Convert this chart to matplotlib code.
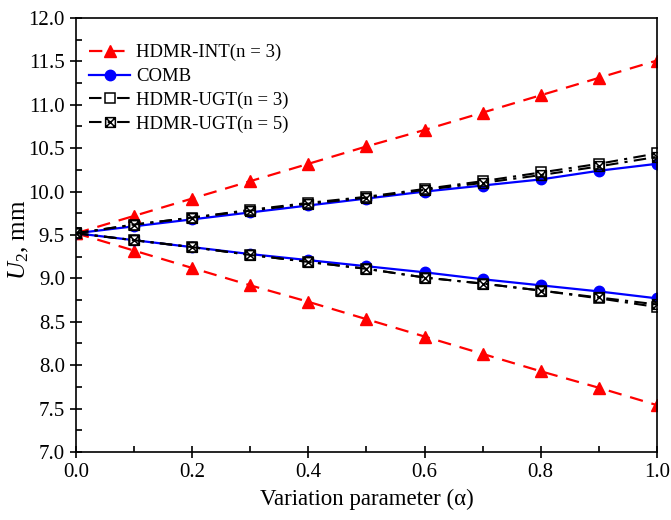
import matplotlib
matplotlib.use("Agg")
import matplotlib.pyplot as plt
from matplotlib.path import Path
from matplotlib.ticker import MultipleLocator
import numpy as np

plt.rcParams['font.family'] = ['Liberation Serif', 'DejaVu Serif']
plt.rcParams['mathtext.fontset'] = 'custom'
plt.rcParams['mathtext.rm'] = 'Liberation Serif'
plt.rcParams['mathtext.it'] = 'Liberation Serif:italic'

alpha = [0.0, 0.1, 0.2, 0.3, 0.4, 0.5, 0.6, 0.7, 0.8, 0.9, 1.0]

int_up = [9.52, 9.72, 9.92, 10.12, 10.32, 10.52, 10.71, 10.91, 11.11, 11.31, 11.51]
int_lo = [9.52, 9.32, 9.12, 8.92, 8.73, 8.53, 8.33, 8.13, 7.93, 7.74, 7.54]

comb_up = [9.52, 9.60, 9.68, 9.76, 9.84, 9.92, 10.00, 10.07, 10.14, 10.24, 10.32]
comb_lo = [9.52, 9.44, 9.36, 9.28, 9.21, 9.14, 9.07, 8.99, 8.92, 8.85, 8.77]

ugt3_up = [9.52, 9.62, 9.70, 9.79, 9.87, 9.94, 10.03, 10.12, 10.22, 10.32, 10.44]
ugt3_lo = [9.52, 9.44, 9.36, 9.27, 9.19, 9.11, 9.01, 8.94, 8.86, 8.77, 8.67]

ugt5_up = [9.52, 9.62, 9.70, 9.78, 9.86, 9.93, 10.02, 10.10, 10.19, 10.29, 10.40]
ugt5_lo = [9.52, 9.44, 9.36, 9.27, 9.19, 9.11, 9.01, 8.94, 8.86, 8.78, 8.70]

labels = ['HDMR-INT(n = 3)', 'COMB', 'HDMR-UGT(n = 3)', 'HDMR-UGT(n = 5)']

# square with X marker
codes = [Path.MOVETO, Path.LINETO, Path.LINETO, Path.LINETO, Path.CLOSEPOLY,
         Path.MOVETO, Path.LINETO, Path.MOVETO, Path.LINETO]
verts = [(-1, -1), (1, -1), (1, 1), (-1, 1), (-1, -1), (-1, -1), (1, 1), (-1, 1), (1, -1)]
sqx = Path(verts, codes)

fig = plt.figure(figsize=(6.71, 5.20), dpi=100)
ax = fig.add_axes([0.1133, 0.1308, 0.8657, 0.8346])

red = '#ff0000'
blue = '#0000ff'

kw_int = dict(color=red, lw=1.6, dashes=(6, 4), marker='^', markersize=9, mfc=red, mec=red)
kw_comb = dict(color=blue, lw=1.6, marker='o', markersize=7.5, mfc=blue, mec=blue)
kw_u3 = dict(color='black', lw=1.5, dashes=(6, 3, 1.5, 3), marker='s', markersize=7, mfc='white', mec='black', mew=1.1)
kw_u5 = dict(color='black', lw=1.5, dashes=(6, 3, 1.5, 3), marker=sqx, markersize=7, mfc='none', mec='black', mew=1.1)

ax.plot(alpha, int_up, label=labels[0], **kw_int)
ax.plot(alpha, int_lo, **kw_int)
ax.plot(alpha, comb_up, label=labels[1], **kw_comb)
ax.plot(alpha, comb_lo, **kw_comb)
ax.plot(alpha, ugt3_up, label=labels[2], **kw_u3)
ax.plot(alpha, ugt3_lo, **kw_u3)
ax.plot(alpha, ugt5_up, label=labels[3], **kw_u5)
ax.plot(alpha, ugt5_lo, **kw_u5)

ax.set_xlim(0, 1.0)
ax.set_ylim(7.0, 12.0)
ax.xaxis.set_major_locator(MultipleLocator(0.2))
ax.xaxis.set_minor_locator(MultipleLocator(0.1))
ax.yaxis.set_major_locator(MultipleLocator(0.5))
ax.yaxis.set_minor_locator(MultipleLocator(0.25))
ax.xaxis.set_major_formatter(plt.FormatStrFormatter('%.1f'))
ax.yaxis.set_major_formatter(plt.FormatStrFormatter('%.1f'))
ax.tick_params(which='major', direction='inout', length=9, width=1.2, labelsize=15, top=False, right=False)
ax.tick_params(which='minor', direction='in', length=4, width=1.2, top=False, right=False)
for s in ax.spines.values():
    s.set_linewidth(1.2)

ax.set_xlabel('Variation parameter (α)', fontsize=16.5, labelpad=5)
ax.set_ylabel('$U_2$, mm', fontsize=18)
ax.yaxis.set_label_coords(-0.077, 0.49)

leg = ax.legend(loc='upper left', frameon=False, fontsize=13.5, handlelength=2.2,
                handletextpad=0.3, labelspacing=0.35, borderaxespad=0.3,
                bbox_to_anchor=(0.0, 0.97))

fig.savefig('out.png', dpi=100)
